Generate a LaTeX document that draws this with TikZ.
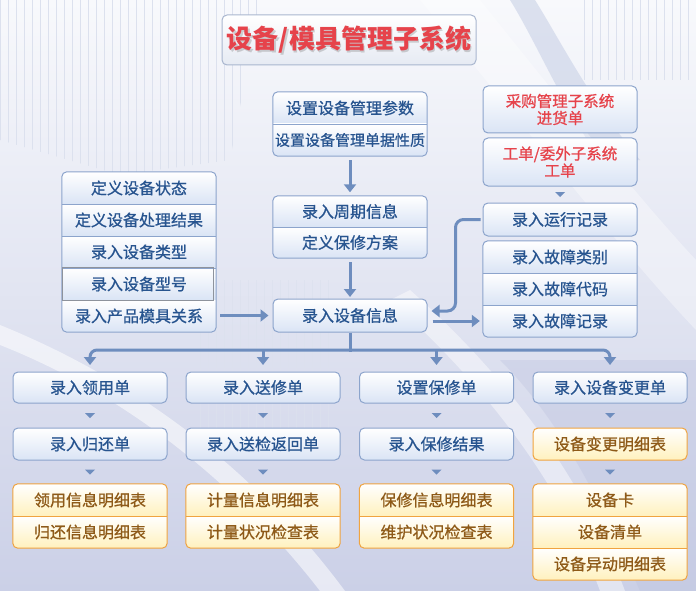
\documentclass[tikz,border=0pt]{standalone}
\usepackage{fontspec}
\newfontfamily\cjk{Noto Sans CJK SC}[FakeBold=0.8]
\newfontfamily\cjktitle{Noto Sans CJK SC}
\usetikzlibrary{arrows.meta,calc}
\definecolor{bborder}{HTML}{8CA4CC}
\definecolor{bfill}{HTML}{DAE4F5}
\definecolor{btext}{HTML}{27548F}
\definecolor{oborder}{HTML}{F0A440}
\definecolor{ofill}{HTML}{FFF1BE}
\definecolor{otext}{HTML}{8E5A18}
\definecolor{acol}{HTML}{6E8DBE}
\definecolor{rtext}{HTML}{E6434B}
\definecolor{bgtop}{HTML}{F8F9FC}
\definecolor{bgbot}{HTML}{CBD0E7}
\definecolor{gridc}{HTML}{DCE1EE}
\definecolor{bandc}{HTML}{C9D1E6}
\definecolor{darkband}{HTML}{BCC2DE}
\definecolor{titleborder}{HTML}{A9B6CF}
\definecolor{titlefill}{HTML}{E6EAF3}
\definecolor{grayedge}{HTML}{8E939C}
\newcommand\downtri[2]{\fill[acol] ($(#1.south)!0.5!(#2.north)$) +(-5,-2.5) -- +(5,-2.5) -- +(0,2.5) -- cycle;}
\tikzset{
  txtb/.style={text=btext, font=\cjk\fontsize{16}{18}\selectfont},
  txto/.style={text=otext, font=\cjk\fontsize{16}{18}\selectfont},
  txtr/.style={text=rtext, font=\cjk\fontsize{15.5}{17}\selectfont, align=center},
  bcell/.style={rectangle, inner sep=0pt, minimum width=154, minimum height=#1,
     top color=white, bottom color=bfill, txtb},
  ocell/.style={rectangle, inner sep=0pt, minimum width=154, minimum height=#1,
     top color=white, bottom color=ofill, txto},
  bbox/.style={rectangle, rounded corners=5, draw=bborder, line width=1pt, inner sep=0pt,
     minimum width=154, minimum height=#1, top color=white, bottom color=bfill, txtb},
  obox/.style={rectangle, rounded corners=5, draw=oborder, line width=1pt, inner sep=0pt,
     minimum width=154, minimum height=#1, top color=white, bottom color=ofill, txto},
  bframe/.style={draw=bborder, line width=1pt, rounded corners=5},
  oframe/.style={draw=oborder, line width=1pt, rounded corners=5},
  bdiv/.style={draw=bborder, line width=0.9pt},
  odiv/.style={draw=oborder, line width=0.9pt},
  arr/.style={draw=acol, line width=3pt, -{Triangle[width=12pt,length=8pt]}},
  plainline/.style={draw=acol, line width=3pt},
}
\begin{document}
\begin{tikzpicture}[x=1pt,y=-1pt]
\useasboundingbox (0,0) rectangle (696,591);
% ---------- background ----------
\shade[top color=bgtop, bottom color=bgbot] (0,0) rectangle (696,591);
\begin{scope}
  \clip (0,0) -- (260,0) -- (230,160) -- (120,175) -- (0,140) -- cycle;
  \draw[gridc, line width=0.6pt, step=8] (0,0) grid (270,180);
\end{scope}
\begin{scope}
  \clip (580,0) rectangle (696,80);
  \draw[gridc, line width=0.6pt, step=8] (576,0) grid (696,80);
\end{scope}
\begin{scope}
  \clip (200,280) -- (330,280) -- (330,430) -- (200,430) -- cycle;
  \draw[gridc, line width=0.6pt, opacity=0.7, step=8] (200,280) grid (330,430);
\end{scope}
\fill[bandc, opacity=0.6] (510,0) -- (535,0) .. controls (560,40) and (590,100) .. (640,160) -- (600,160) .. controls (560,100) and (535,40) .. cycle;
\fill[white, opacity=0.55] (0,345) .. controls (140,400) and (250,500) .. (320,591) -- (345,591) .. controls (270,490) and (160,390) .. (0,325) -- cycle;
\fill[white, opacity=0.45] (390,300) .. controls (480,380) and (560,480) .. (600,591) -- (625,591) .. controls (580,470) and (500,370) .. (410,290) -- cycle;
\fill[darkband, opacity=0.35] (640,591) .. controls (600,500) and (560,420) .. (500,360) -- (696,360) -- (696,591) -- cycle;
\fill[white, opacity=0.35] (420,0) .. controls (520,120) and (620,250) .. (696,330) -- (696,260) .. controls (640,200) and (560,100) .. (480,0) -- cycle;
% ---------- title ----------
\node[rectangle, rounded corners=5, draw=titleborder, line width=1pt, minimum width=254, minimum height=50,
      top color=white, bottom color=titlefill] (titlebox) at (349,40) {};
\node[text=gray, opacity=0.35, font=\cjktitle\bfseries\fontsize{26}{28}\selectfont] (titleshadow) at (350.2,41.5) {设备/模具管理子系统};
\node[text=rtext, font=\cjktitle\bfseries\fontsize{26}{28}\selectfont] (title) at (349,40) {设备/模具管理子系统};
% ---------- top center ----------
\begin{scope}
  \clip[rounded corners=5] (273,92) rectangle (427,156);
  \node[bcell=32] (ts1) at (350,108) {设置设备管理参数};
  \node[bcell=32, font=\cjk\fontsize{15}{17}\selectfont] (ts2) at (350,140) {设置设备管理单据性质};
\end{scope}
\draw[bframe] (ts1.north west) rectangle (ts2.south east);
\draw[bdiv] (ts1.south west) -- (ts1.south east);
\begin{scope}
  \clip[rounded corners=5] (273,196) rectangle (427,258);
  \node[bcell=31] (tb1) at (350,211.5) {录入周期信息};
  \node[bcell=31] (tb2) at (350,242.5) {定义保修方案};
\end{scope}
\draw[bframe] (tb1.north west) rectangle (tb2.south east);
\draw[bdiv] (tb1.south west) -- (tb1.south east);
\node[bbox=33] (dev) at (350,315.5) {录入设备信息};
% ---------- left stack ----------
\begin{scope}
  \clip[rounded corners=5] (62,172) rectangle (216,332);
  \node[bcell=32] (ls1) at (139,188) {定义设备状态};
  \node[bcell=32] (ls2) at (139,220) {定义设备处理结果};
  \node[bcell=32] (ls3) at (139,252) {录入设备类型};
  \node[bcell=32] (ls4) at (139,284) {录入设备型号};
  \node[bcell=32] (ls5) at (139,316) {录入产品模具关系};
\end{scope}
\draw[bframe] (ls1.north west) rectangle (ls5.south east);
\foreach \n in {ls1,ls2,ls3}{\draw[bdiv] (\n.south west) -- (\n.south east);}
\draw[draw=grayedge, line width=0.9pt] ($(ls4.north west)+(0.5,0)$) rectangle ($(ls4.south east)+(-3,0)$);
% ---------- right column ----------
\node[bbox=47, txtr] (buy) at (560,109.5) {采购管理子系统\\进货单};
\node[bbox=48, txtr] (work) at (560,162) {工单/委外子系统\\工单};
\node[bbox=33] (run) at (560,219.5) {录入运行记录};
\begin{scope}
  \clip[rounded corners=5] (483,241) rectangle (637,337);
  \node[bcell=32] (rs1) at (560,257) {录入故障类别};
  \node[bcell=32] (rs2) at (560,289) {录入故障代码};
  \node[bcell=32] (rs3) at (560,321) {录入故障记录};
\end{scope}
\draw[bframe] (rs1.north west) rectangle (rs3.south east);
\foreach \n in {rs1,rs2}{\draw[bdiv] (\n.south west) -- (\n.south east);}
\downtri{work}{run}
% ---------- bottom columns ----------
\node[bbox=31] (c1a) at (90,387.5) {录入领用单};
\node[bbox=31] (c2a) at (263,387.5) {录入送修单};
\node[bbox=31] (c3a) at (436.5,387.5) {设置保修单};
\node[bbox=31] (c4a) at (610,387.5) {录入设备变更单};
\node[bbox=32] (c1b) at (90,444) {录入归还单};
\node[bbox=32] (c2b) at (263,444) {录入送检返回单};
\node[bbox=32] (c3b) at (436.5,444) {录入保修结果};
\node[obox=32] (c4b) at (610,444) {设备变更明细表};
\foreach \x/\c in {90/c1, 263/c2, 436.5/c3}{
  \begin{scope}
    \clip[rounded corners=5] (\x-77,484) rectangle (\x+77,548);
    \node[ocell=32] (\c r1) at (\x,500) {};
    \node[ocell=32] (\c r2) at (\x,532) {};
  \end{scope}
  \draw[oframe] (\c r1.north west) rectangle (\c r2.south east);
  \draw[odiv] (\c r1.south west) -- (\c r1.south east);
}
\node[txto] (c1t1) at (c1r1) {领用信息明细表};
\node[txto] (c1t2) at (c1r2) {归还信息明细表};
\node[txto] (c2t1) at (c2r1) {计量信息明细表};
\node[txto] (c2t2) at (c2r2) {计量状况检查表};
\node[txto] (c3t1) at (c3r1) {保修信息明细表};
\node[txto] (c3t2) at (c3r2) {维护状况检查表};
\begin{scope}
  \clip[rounded corners=5] (533,484) rectangle (687,580);
  \node[ocell=32] (c4r1) at (610,500) {设备卡};
  \node[ocell=32] (c4r2) at (610,532) {设备清单};
  \node[ocell=32] (c4r3) at (610,564) {设备异动明细表};
\end{scope}
\draw[oframe] (c4r1.north west) rectangle (c4r3.south east);
\foreach \n in {c4r1,c4r2}{\draw[odiv] (\n.south west) -- (\n.south east);}
\foreach \c in {c1,c2,c3,c4}{
  \downtri{\c a}{\c b}
  \downtri{\c b}{\c r1}
}
% ---------- connectors ----------
\draw[arr] ($(ts2.south)+(0,4)$) -- ($(tb1.north)+(0,-3.5)$);
\draw[arr] ($(tb2.south)+(0,4)$) -- ($(dev.north)+(0,-1.5)$);
\draw[arr] ($(ls5.east)+(4,-0.5)$) -- ($(dev.west)+(-4,0)$);
\draw[arr, rounded corners=8] ($(run.west)+(-2,0)$) -| ($(dev.east)+(28,-4.5)$) -- ($(dev.east)+(4,-4.5)$);
\draw[arr] ($(dev.east |- rs3.west)+(5,0)$) -- ($(rs3.west)+(-3,0)$);
\coordinate (fork) at ($(dev.south)+(0,17.5)$);
\draw[plainline] (dev.south) -- ($(fork)+(0,1.5)$);
\draw[arr, rounded corners=7] (fork) -| ($(c1a.north)+(0,-6.5)$);
\draw[arr, rounded corners=7] (fork) -| ($(c4a.north)+(0,-6.5)$);
\draw[arr] (fork -| c2a.north) -- ($(c2a.north)+(0,-6.5)$);
\draw[arr] (fork -| c3a.north) -- ($(c3a.north)+(0,-6.5)$);
\end{tikzpicture}
\end{document}
